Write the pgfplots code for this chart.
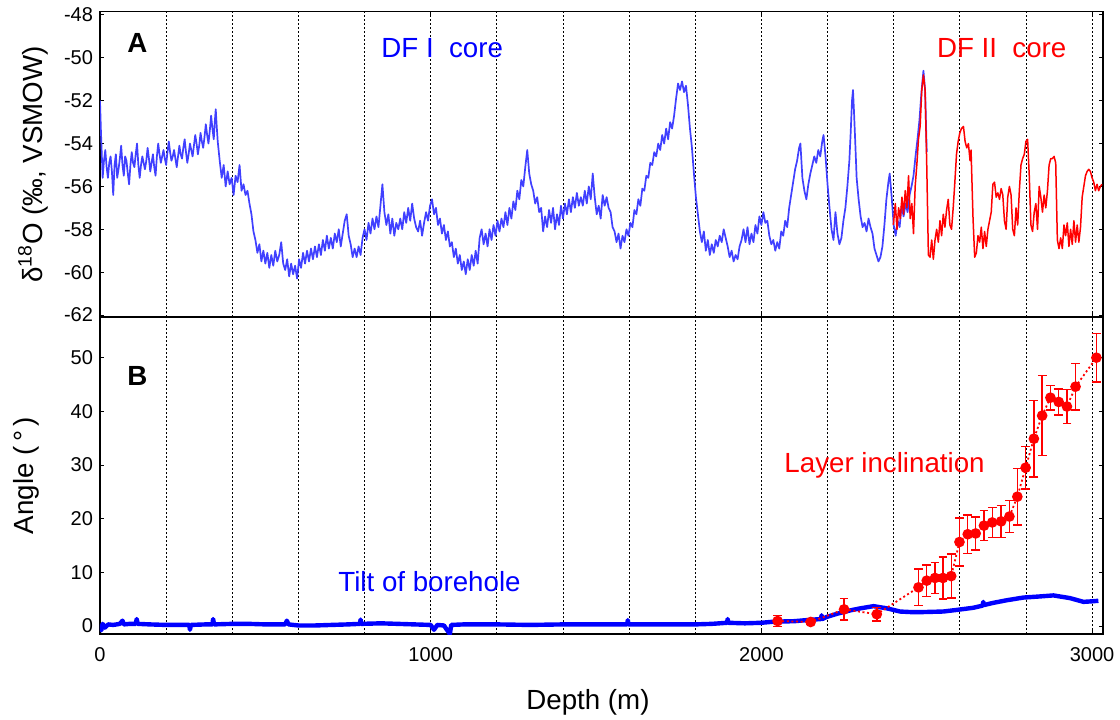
\documentclass[border=0pt]{standalone}
\usepackage{fontspec}
\setmainfont{Liberation Sans}
\usepackage{pgfplots}
\pgfplotsset{compat=1.18}
\definecolor{dfblue}{RGB}{64,64,255}
\newcommand{\bigf}{\fontsize{13.85}{16}\selectfont}
\begin{document}
\begin{tikzpicture}
\path[use as bounding box] (0,0) rectangle (560pt,359.5pt);
\pgfplotsset{
  common/.style={
    scale only axis, width=501.5pt,
    xmin=0, xmax=3033,
    xtick={0,1000,2000,3000},
    minor x tick num=4,
    xmajorgrids, xminorgrids,
    grid style={black, line width=0.4pt, dash pattern=on 1pt off 1pt},
    minor tick length=0pt,
    major tick length=2.2pt,
    tick align=inside,
    axis line style={black, line width=0.7pt},
    tick style={black, line width=0.5pt},
    /pgf/number format/assume math mode=true,
    tick label style={font=\fontsize{10}{12}\selectfont},
    scaled ticks=false,
    /pgf/number format/1000 sep={},
  }
}
% ---------- Panel A ----------
\begin{axis}[common,
  at={(50pt,201pt)}, anchor=south west,
  height=152.65pt,
  ymin=-62.093, ymax=-47.846,
  ytick={-62,-60,...,-48},
  xticklabels={},
  ylabel={δ\textsuperscript{18}O (‰, VSMOW)},
  ylabel style={font=\bigf, at={(axis description cs:-0.0578,0.5)}, anchor=base, inner sep=0pt},
]
\addplot[dfblue, line width=0.85pt, line join=round] coordinates {
(0,-52.0)(3,-53.5)(8,-55.6)(12,-54.8)(16,-54.3)(20,-55.1)(24,-55.6)(28,-54.9)(32,-54.6)(36,-55.3)(40,-56.4)(44,-55.0)(48,-54.5)(52,-55.6)(56,-55.2)(60,-54.7)(64,-54.1)(68,-55.0)(72,-55.5)(76,-54.6)(80,-54.8)(84,-55.4)(88,-55.9)(92,-55.0)(96,-54.4)(100,-54.9)(104,-55.1)(108,-54.5)(112,-54.0)(116,-55.0)(120,-55.6)(124,-55.0)(128,-54.6)(132,-54.9)(136,-55.2)(140,-54.8)(144,-54.2)(148,-54.7)(152,-55.3)(156,-54.9)(160,-54.5)(164,-55.1)(168,-55.5)(172,-54.6)(176,-54.0)(180,-54.5)(184,-54.9)(188,-54.6)(192,-54.3)(196,-54.7)(200,-55.0)(204,-54.4)(208,-53.9)(212,-54.4)(216,-54.8)(220,-54.6)(224,-54.3)(228,-54.7)(232,-55.1)(236,-54.6)(240,-54.1)(244,-54.5)(248,-54.7)(252,-54.2)(256,-53.8)(260,-54.4)(264,-54.9)(268,-54.5)(272,-54.0)(276,-54.3)(280,-54.6)(284,-54.1)(288,-53.6)(292,-54.0)(296,-54.5)(300,-54.1)(304,-53.5)(308,-53.9)(312,-54.2)(316,-53.7)(320,-53.1)(324,-53.6)(328,-54.0)(332,-53.4)(336,-52.7)(340,-53.3)(344,-53.8)(347,-53.0)(350,-52.4)(353,-53.2)(356,-53.9)(362,-54.8)(368,-55.6)(374,-55.0)(380,-56.0)(386,-55.3)(392,-55.9)(398,-55.6)(404,-56.4)(410,-55.5)(416,-55.8)(422,-55.0)(428,-56.2)(434,-55.9)(440,-56.4)(446,-56.2)(452,-56.8)(458,-57.3)(464,-58.1)(470,-58.5)(476,-59.1)(482,-58.7)(488,-59.5)(494,-59.0)(500,-59.6)(506,-59.1)(512,-59.8)(518,-59.2)(524,-59.7)(530,-59.0)(536,-59.5)(542,-59.2)(548,-58.6)(554,-59.6)(560,-59.9)(566,-59.4)(572,-60.2)(578,-59.6)(584,-60.1)(590,-59.7)(596,-60.3)(602,-59.4)(608,-59.8)(614,-59.1)(620,-59.6)(626,-59.0)(632,-59.5)(638,-58.9)(644,-59.4)(650,-58.8)(656,-59.3)(662,-58.7)(668,-59.2)(674,-58.5)(680,-59.0)(686,-58.3)(692,-58.9)(698,-58.4)(704,-58.9)(710,-58.2)(716,-58.6)(722,-58.0)(728,-58.8)(734,-58.2)(740,-57.6)(746,-57.3)(752,-58.3)(758,-58.7)(764,-59.3)(770,-58.9)(776,-59.3)(782,-58.8)(788,-59.2)(794,-58.4)(800,-58.0)(806,-58.5)(812,-57.7)(818,-58.2)(824,-57.5)(830,-58.0)(836,-57.4)(842,-57.9)(848,-56.9)(854,-55.9)(860,-57.2)(866,-57.8)(872,-57.3)(878,-58.2)(884,-57.5)(890,-58.3)(896,-57.7)(902,-58.0)(908,-57.5)(914,-58.0)(920,-57.2)(926,-57.7)(932,-57.0)(938,-57.6)(944,-56.8)(950,-57.5)(956,-57.9)(962,-58.1)(968,-57.6)(974,-58.3)(980,-57.7)(986,-57.2)(992,-57.6)(998,-56.9)(1004,-56.6)(1010,-57.3)(1016,-57.0)(1022,-57.8)(1028,-57.5)(1034,-58.2)(1040,-57.8)(1046,-58.5)(1052,-58.1)(1058,-58.8)(1064,-58.6)(1070,-59.3)(1076,-58.9)(1082,-59.6)(1088,-59.2)(1094,-59.9)(1100,-59.5)(1106,-60.1)(1112,-59.4)(1118,-59.9)(1124,-59.2)(1130,-59.7)(1136,-59.0)(1142,-59.6)(1148,-58.4)(1154,-58.0)(1160,-58.7)(1166,-58.2)(1172,-58.8)(1178,-58.0)(1184,-58.5)(1190,-57.8)(1196,-58.3)(1202,-57.6)(1208,-58.1)(1214,-57.5)(1220,-57.9)(1226,-57.2)(1232,-57.8)(1238,-57.0)(1244,-57.5)(1250,-56.7)(1256,-57.1)(1262,-56.2)(1268,-56.6)(1274,-55.7)(1280,-56.0)(1286,-55.1)(1292,-54.3)(1298,-55.4)(1304,-55.9)(1310,-56.2)(1316,-56.8)(1322,-56.5)(1328,-57.2)(1334,-57.0)(1340,-58.1)(1346,-57.4)(1352,-57.9)(1358,-57.1)(1364,-57.7)(1370,-57.0)(1376,-58.0)(1382,-57.3)(1388,-57.8)(1394,-56.9)(1400,-57.5)(1406,-56.8)(1412,-57.3)(1418,-56.6)(1424,-57.2)(1430,-56.5)(1436,-57.0)(1442,-56.3)(1448,-56.9)(1454,-56.5)(1460,-56.9)(1466,-56.2)(1472,-56.8)(1478,-56.0)(1484,-56.6)(1490,-55.4)(1496,-56.5)(1502,-57.3)(1508,-56.9)(1514,-57.5)(1520,-56.4)(1526,-56.9)(1532,-56.5)(1538,-57.0)(1544,-57.2)(1550,-57.9)(1556,-58.1)(1562,-58.6)(1568,-58.2)(1574,-58.9)(1580,-58.3)(1586,-58.6)(1592,-58.0)(1598,-58.3)(1604,-57.7)(1610,-57.9)(1616,-57.1)(1622,-57.3)(1628,-56.6)(1634,-56.9)(1640,-56.1)(1646,-56.2)(1652,-55.5)(1658,-55.6)(1664,-54.9)(1670,-55.0)(1676,-54.4)(1682,-54.6)(1688,-54.0)(1694,-54.3)(1700,-53.6)(1706,-54.0)(1712,-53.3)(1718,-53.8)(1724,-53.0)(1730,-53.3)(1736,-52.7)(1742,-51.9)(1748,-51.2)(1754,-51.5)(1760,-51.1)(1766,-51.6)(1772,-51.3)(1778,-52.2)(1784,-53.3)(1790,-54.2)(1796,-55.4)(1802,-56.5)(1808,-57.3)(1814,-58.1)(1820,-58.6)(1826,-58.1)(1832,-59.0)(1838,-58.5)(1844,-59.2)(1850,-58.7)(1856,-59.1)(1862,-58.5)(1868,-58.8)(1874,-58.3)(1880,-58.6)(1886,-58.0)(1892,-58.4)(1898,-58.8)(1904,-59.3)(1910,-59.0)(1916,-59.5)(1922,-59.2)(1928,-59.4)(1934,-58.8)(1940,-58.5)(1946,-58.0)(1952,-58.6)(1958,-57.9)(1964,-58.7)(1970,-58.2)(1976,-58.6)(1982,-57.8)(1988,-58.2)(1994,-57.4)(2000,-57.8)(2006,-57.2)(2012,-57.7)(2018,-57.6)(2024,-58.3)(2030,-58.7)(2036,-58.5)(2042,-59.0)(2048,-58.6)(2054,-58.9)(2060,-58.1)(2066,-58.3)(2072,-57.6)(2078,-57.9)(2084,-57.0)(2090,-56.4)(2096,-55.8)(2102,-55.2)(2108,-54.8)(2114,-54.2)(2118,-54.0)(2124,-55.6)(2130,-56.2)(2136,-56.6)(2142,-55.9)(2148,-55.4)(2154,-55.0)(2160,-54.6)(2166,-54.9)(2172,-54.3)(2178,-54.6)(2184,-53.9)(2188,-53.6)(2194,-54.6)(2200,-55.9)(2206,-57.0)(2212,-58.0)(2218,-58.5)(2224,-57.2)(2230,-58.2)(2236,-58.7)(2242,-58.4)(2248,-57.6)(2254,-57.0)(2260,-56.0)(2266,-54.8)(2270,-53.5)(2274,-52.0)(2277,-51.5)(2280,-52.5)(2284,-54.0)(2288,-55.6)(2294,-56.6)(2300,-57.4)(2306,-57.9)(2312,-57.7)(2318,-58.1)(2324,-57.5)(2330,-57.9)(2336,-58.2)(2342,-58.9)(2348,-59.2)(2354,-59.5)(2360,-59.3)(2366,-58.8)(2372,-57.8)(2378,-56.6)(2384,-55.8)(2388,-55.4)(2394,-56.5)(2400,-57.8)(2406,-58.3)(2412,-57.6)(2418,-57.9)(2424,-56.9)(2430,-57.4)(2436,-56.8)(2442,-57.2)(2448,-56.4)(2454,-56.0)(2460,-55.5)(2466,-54.6)(2472,-53.8)(2478,-52.9)(2484,-51.6)(2490,-50.6)(2495,-51.5)(2500,-54.4)
};
\addplot[red, line width=0.75pt, line join=round] coordinates {
(2399,-57.8)(2405,-56.8)(2410,-58.0)(2415,-57.0)(2420,-57.5)(2425,-56.5)(2430,-57.3)(2435,-56.2)(2440,-57.0)(2445,-55.5)(2450,-57.5)(2455,-56.8)(2460,-58.2)(2465,-56.0)(2470,-55.0)(2475,-53.8)(2480,-53.2)(2485,-51.5)(2490,-50.8)(2495,-51.5)(2500,-55.0)(2505,-59.2)(2510,-59.3)(2515,-58.5)(2520,-59.4)(2525,-58.5)(2530,-58.0)(2535,-58.6)(2540,-57.6)(2545,-58.3)(2550,-57.3)(2555,-57.9)(2560,-57.1)(2565,-56.6)(2570,-57.8)(2575,-58.0)(2580,-57.0)(2585,-55.8)(2590,-54.5)(2595,-53.9)(2600,-53.5)(2605,-53.3)(2611,-53.2)(2616,-53.9)(2621,-54.2)(2626,-54.0)(2631,-54.8)(2634,-54.3)(2640,-57.5)(2645,-59.3)(2650,-59.1)(2655,-58.3)(2660,-58.6)(2665,-57.9)(2670,-58.9)(2675,-58.1)(2680,-58.8)(2685,-58.0)(2690,-57.6)(2695,-57.2)(2700,-55.9)(2705,-55.8)(2710,-56.5)(2715,-56.3)(2720,-56.6)(2725,-56.1)(2730,-56.4)(2735,-57.6)(2740,-58.0)(2745,-56.5)(2750,-56.0)(2755,-56.4)(2760,-58.0)(2765,-58.3)(2770,-57.0)(2775,-57.8)(2780,-56.2)(2785,-55.0)(2790,-54.7)(2795,-54.5)(2800,-53.9)(2805,-53.8)(2810,-55.5)(2815,-57.8)(2820,-58.1)(2825,-57.2)(2830,-56.8)(2835,-58.0)(2840,-56.0)(2845,-56.5)(2850,-57.2)(2855,-56.4)(2860,-57.0)(2865,-56.2)(2870,-55.0)(2875,-54.7)(2880,-54.7)(2885,-54.6)(2890,-54.9)(2895,-58.5)(2900,-58.9)(2905,-58.4)(2910,-58.9)(2915,-57.8)(2920,-58.3)(2925,-57.7)(2930,-58.8)(2935,-58.0)(2940,-58.7)(2945,-57.6)(2950,-58.6)(2955,-57.8)(2960,-58.6)(2965,-57.9)(2970,-56.5)(2975,-56.0)(2980,-55.5)(2985,-55.3)(2990,-55.2)(2995,-55.3)(3000,-55.6)(3005,-55.8)(3010,-56.2)(3015,-55.9)(3020,-56.2)(3025,-56.0)(3030,-55.9)
};
\node[anchor=base west, inner sep=0pt, font=\bigf\bfseries] at (axis cs:81.7,-49.73) {A};
\node[anchor=base west, inner sep=0pt, font=\bigf, text=blue] at (axis cs:849.8,-49.97) {DF I\ \ core};
\node[anchor=base west, inner sep=0pt, font=\bigf, text=red] at (axis cs:2530,-49.97) {DF II\ \ core};
\end{axis}
% ---------- Panel B ----------
\begin{axis}[common,
  at={(50pt,42.5pt)}, anchor=south west,
  height=158.5pt,
  ymin=-1.49, ymax=57.58,
  ytick={0,10,...,50},
  xticklabel style={yshift=-3.2pt},
  xlabel={Depth (m)},
  xlabel style={font=\bigf, at={(axis description cs:0.4865,-0.2397)}, anchor=base, inner sep=0pt},
  ylabel={Angle (\,°\,)},
  ylabel style={font=\bigf, at={(axis description cs:-0.0665,0.5)}, anchor=base, inner sep=0pt},
]
\addplot[blue, line width=2.2pt, line join=round] coordinates {
(0,0.3)(4,-0.8)(8,0.4)(15,-0.3)(25,0.3)(40,0.2)(60,0.4)(68,1.0)(72,0.3)(90,0.4)(108,0.4)(111,1.3)(114,0.4)(150,0.3)(200,0.2)(250,0.2)(270,0.2)(272,-0.7)(275,0.2)(320,0.3)(340,0.3)(342,1.3)(345,0.3)(400,0.4)(450,0.4)(500,0.3)(560,0.3)(565,1.0)(570,0.3)(600,0.1)(650,0.1)(700,0.2)(750,0.3)(786,0.4)(788,1.2)(790,0.4)(850,0.5)(900,0.4)(950,0.3)(1000,0.2)(1010,-0.7)(1020,0.2)(1040,0.1)(1058,-1.5)(1062,0.2)(1100,0.3)(1200,0.3)(1300,0.2)(1400,0.3)(1500,0.3)(1594,0.3)(1596,1.1)(1598,0.3)(1700,0.3)(1800,0.3)(1850,0.4)(1896,0.6)(1898,1.3)(1900,0.6)(1950,0.5)(2000,0.6)(2036,0.8)(2100,0.9)(2137,1.1)(2180,1.3)(2182,2.0)(2184,1.3)(2198,1.7)(2230,2.3)(2268,2.9)(2300,3.3)(2339,3.7)(2379,3.3)(2419,2.7)(2450,2.6)(2490,2.6)(2550,2.7)(2591,3.0)(2641,3.4)(2669,3.8)(2671,4.5)(2673,3.9)(2700,4.3)(2742,4.8)(2792,5.3)(2840,5.5)(2883,5.7)(2933,5.2)(2974,4.5)(3000,4.6)(3019,4.7)
};
\addplot[red, line width=0.9pt, dash pattern=on 1pt off 1.3pt,
  mark=*, mark size=2.2pt, mark options={solid, fill=red, draw=red},
  error bars/y dir=both, error bars/y explicit,
  error bars/error bar style={draw=red, line width=0.7pt, solid},
  error bars/error mark options={draw=red, mark size=2.2pt, line width=0.7pt, solid, rotate=90}]
coordinates {
(2049,0.93) +- (0,1.0)
(2149,0.75) +- (0,0.4)
(2250,3.1) +- (0,2.0)
(2349,2.2) +- (0,1.3)
(2475,7.2) +- (0,3.4)
(2500,8.45) +- (0,2.9)
(2525,8.95) +- (0,2.9)
(2549,8.95) +- (0,3.9)
(2574,9.3) +- (0,4.1)
(2599,15.65) +- (0,4.45)
(2624,17.1) +- (0,3.6)
(2648,17.25) +- (0,3.05)
(2673,18.7) +- (0,2.8)
(2698,19.3) +- (0,2.8)
(2725,19.5) +- (0,3.0)
(2750,20.4) +- (0,2.95)
(2774,24.1) +- (0,5.3)
(2799,29.5) +- (0,4.0)
(2824,34.9) +- (0,7.1)
(2849,39.2) +- (0,7.45)
(2874,42.55) +- (0,2.3)
(2899,41.75) +- (0,2.4)
(2924,40.9) +- (0,3.2)
(2950,44.6) +- (0,4.35)
(3013,50.0) +- (0,4.55)
};
\node[anchor=base west, inner sep=0pt, font=\bigf\bfseries] at (axis cs:81.7,44.73) {B};
\node[anchor=base west, inner sep=0pt, font=\bigf, text=red] at (axis cs:2068.6,28.57) {Layer inclination};
\node[anchor=base west, inner sep=0pt, font=\bigf, text=blue] at (axis cs:719.8,6.39) {Tilt of borehole};
\end{axis}
\end{tikzpicture}
\end{document}
